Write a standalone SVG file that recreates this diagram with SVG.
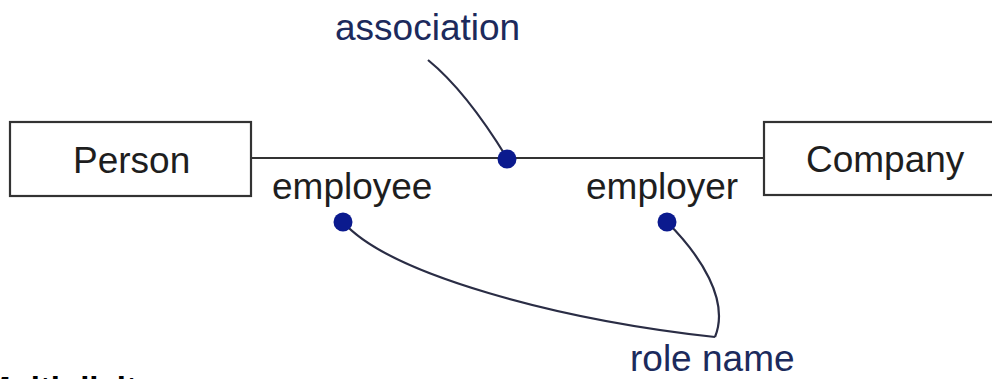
<svg xmlns="http://www.w3.org/2000/svg" width="992" height="379" viewBox="0 0 992 379">
<style>
.box{fill:#fff;stroke:#333;stroke-width:2.2}
.lbl{font-family:"Liberation Sans",Arial,sans-serif;font-size:37px;fill:#1e1e1e}
.note{font-family:"Liberation Sans",Arial,sans-serif;font-size:37px;fill:#1c2a5c}
.lead{fill:none;stroke:#2a2d45;stroke-width:2.2}
.dot{fill:#0b1a8e}
</style>
<rect width="992" height="379" fill="#fff"/>
<g id="connectors">
<line x1="251" y1="158" x2="764" y2="158" stroke="#333" stroke-width="2.2"/>
<path class="lead" d="M428,60 Q466,91 507,158"/>
<path class="lead" d="M343,222 C390,275 560,320 715,337"/>
<path class="lead" d="M667,222 C700,255 730,300 715,337"/>
<circle class="dot" cx="507" cy="159" r="9.5"/>
<circle class="dot" cx="343" cy="222" r="9.5"/>
<circle class="dot" cx="667" cy="222" r="9.5"/>
</g>
<g id="person">
<rect class="box" x="10" y="122" width="241" height="74"/>
<text class="lbl" x="73" y="173">Person</text>
</g>
<g id="company">
<rect class="box" x="764" y="122" width="240" height="73"/>
<text class="lbl" x="806" y="172">Company</text>
</g>
<g id="labels">
<text class="note" x="630" y="371">role name</text>
<text class="note" x="335" y="40">association</text>
<text class="lbl" x="272" y="199">employee</text>
<text class="lbl" x="586" y="199">employer</text>
<text x="-17" y="400" font-family="'Liberation Sans',Arial,sans-serif" font-size="33" font-weight="bold" fill="#000">Multiplicity</text>
</g>
</svg>
